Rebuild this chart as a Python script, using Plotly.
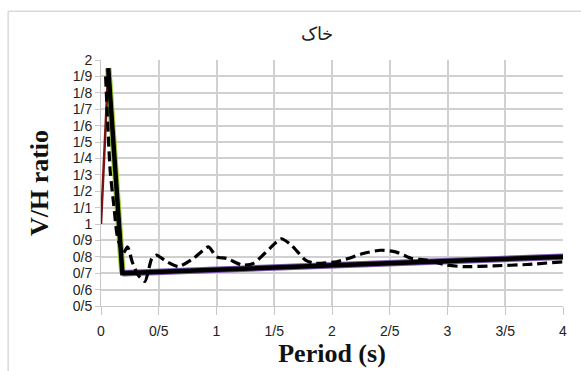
import plotly.graph_objects as go

# ---- data ----
red_x = [0.0, 0.063]
red_y = [1.0, 1.95]

green_x = [0.063, 0.185]
green_y = [1.95, 0.70]

purple_x = [0.185, 4.0]
purple_y = [0.70, 0.80]

solid_x = [0.063, 0.185, 4.0]
solid_y = [1.95, 0.70, 0.80]

dash_x = [0.04, 0.08, 0.11, 0.14, 0.19, 0.23, 0.27, 0.32, 0.38, 0.44, 0.48, 0.57,
          0.67, 0.80, 0.93, 1.0, 1.09, 1.22, 1.32, 1.46, 1.56, 1.65, 1.77, 1.85,
          2.04, 2.14, 2.27, 2.42, 2.55, 2.69, 2.82, 2.99, 3.14, 3.40, 3.69, 4.0]
dash_y = [1.90, 1.32, 1.12, 0.93, 0.82, 0.86, 0.77, 0.69, 0.65, 0.79, 0.81, 0.77,
          0.74, 0.79, 0.86, 0.80, 0.79, 0.75, 0.76, 0.85, 0.91, 0.87, 0.78, 0.76,
          0.77, 0.79, 0.82, 0.84, 0.83, 0.79, 0.78, 0.75, 0.74, 0.745, 0.753, 0.77]

x_tickvals = [0, 0.5, 1, 1.5, 2, 2.5, 3, 3.5, 4]
x_ticktext = ["0", "0/5", "1", "1/5", "2", "2/5", "3", "3/5", "4"]
y_tickvals = [0.5, 0.6, 0.7, 0.8, 0.9, 1.0, 1.1, 1.2, 1.3, 1.4, 1.5, 1.6, 1.7, 1.8, 1.9, 2.0]
y_ticktext = ["0/5", "0/6", "0/7", "0/8", "0/9", "1", "1/1", "1/2", "1/3", "1/4",
              "1/5", "1/6", "1/7", "1/8", "1/9", "2"]

title_text = "خاک"
x_title = "Period (s)"
y_title = "V/H ratio"

fig = go.Figure()
fig.add_trace(go.Scatter(x=green_x, y=green_y, mode="lines",
                         line=dict(color="#9acd32", width=6.5), showlegend=False))
fig.add_trace(go.Scatter(x=purple_x, y=purple_y, mode="lines",
                         line=dict(color="#7b52ab", width=6.5), showlegend=False))
fig.add_trace(go.Scatter(x=red_x, y=red_y, mode="lines",
                         line=dict(color="#7a1010", width=2.5), showlegend=False))
fig.add_trace(go.Scatter(x=solid_x, y=solid_y, mode="lines",
                         line=dict(color="black", width=4.5), showlegend=False))
fig.add_trace(go.Scatter(x=dash_x, y=dash_y, mode="lines",
                         line=dict(color="black", width=3.2, dash="10px,5px",
                                   shape="spline", smoothing=0.6),
                         showlegend=False))

fig.update_layout(
    width=581, height=371,
    margin=dict(l=101, r=18, t=60, b=61),
    paper_bgcolor="white", plot_bgcolor="white",
    title=dict(text=title_text, x=0.545, xanchor="center", y=0.91, yanchor="middle",
               font=dict(family="DejaVu Serif, Noto Sans", size=18, color="#222")),
    shapes=[
        dict(type="line", xref="paper", yref="paper", x0=-0.201, x1=1.04, y0=1.198, y1=1.198,
             line=dict(color="#d9d9d9", width=1.5)),
        dict(type="line", xref="paper", yref="paper", x0=-0.201, x1=-0.201, y0=1.198, y1=-0.3,
             line=dict(color="#d9d9d9", width=1.5)),
    ],
)
fig.update_xaxes(range=[0, 4], tickvals=x_tickvals, ticktext=x_ticktext,
                 showgrid=True, gridcolor="#d0d0d0", gridwidth=1.5,
                 ticks="outside", ticklen=8, tickcolor="#c8c8c8",
                 ticklabelstandoff=4,
                 showline=True, linecolor="#c8c8c8", zeroline=False,
                 tickfont=dict(family="Liberation Sans", size=14, color="#222"),
                 title=dict(text="<b>" + x_title + "</b>", standoff=2,
                            font=dict(family="Liberation Serif", size=26, color="#111")))
fig.update_yaxes(range=[0.5, 2.0], tickvals=y_tickvals, ticktext=y_ticktext,
                 showgrid=True, gridcolor="#d0d0d0", gridwidth=1.5,
                 ticks="outside", ticklen=5, tickcolor="#c8c8c8",
                 showline=True, linecolor="#c8c8c8", zeroline=False,
                 tickfont=dict(family="Liberation Sans", size=14, color="#222"),
                 title=dict(text="<b>" + y_title + "</b>", standoff=16,
                            font=dict(family="Liberation Serif", size=26, color="#111")))

fig.write_html("out.html")
